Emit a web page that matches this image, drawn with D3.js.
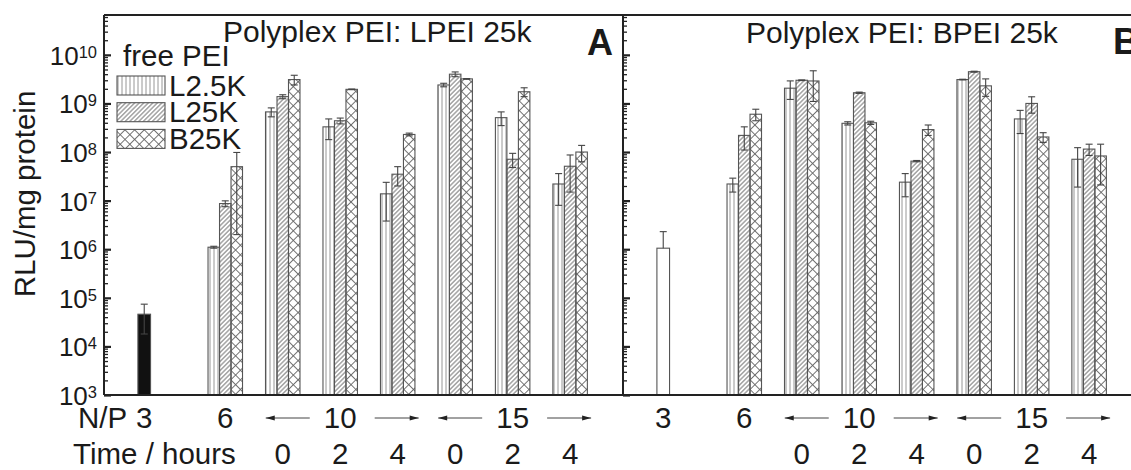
<!DOCTYPE html>
<html>
<head>
<meta charset="utf-8">
<title>Polyplex PEI with free PEI</title>
<script src="https://d3js.org/d3.v7.min.js"></script>
<style>
  body { margin: 0; background: #fff; }
  text { font-family: "Liberation Sans", Arial, sans-serif; fill: #1a1a1a; }
</style>
</head>
<body>
<div id="stage"></div>
<script>
// ---- data ----
var seriesNames = ["L2.5K", "L25K", "B25K"];
var groupPos = [2.11, 3.11, 4.11, 5.11, 6.11, 7.11, 8.11];   // N/P 6, 10 (0,2,4 h), 15 (0,2,4 h)
var ctrlPos = 0.7;                                            // N/P 3
var npLabels = ["6", "10", "15"];
var npLabelGroup = [0, 2, 5];
var timeLabels = ["", "0", "2", "4", "0", "2", "4"];
var yTicks = [3, 4, 5, 6, 7, 8, 9, 10];

// panel A: polyplex LPEI 25k
var ctrlA = 4.6e4, ctrlAsd = 2.8e4;
var aL2_5 = [1.1e6, 6.7e8, 3.3e8, 1.38e7, 2.4e9, 5.1e8, 2.2e7];
var aL2_5sd = [0.05e6, 1.4e8, 1.5e8, 1.0e7, 0.2e9, 1.6e8, 1.4e7];
var aL25 = [8.7e6, 1.38e9, 4.4e8, 3.5e7, 4.0e9, 7.1e7, 5.1e7];
var aL25sd = [1.2e6, 1.3e8, 0.6e8, 1.5e7, 0.45e9, 2.3e7, 3.6e7];
var aB25 = [5.0e7, 3.1e9, 1.95e9, 2.3e8, 3.2e9, 1.74e9, 1.0e8];
var aB25sd = [4.8e7, 7e8, 0.03e9, 0.15e8, 0.05e9, 0.36e9, 0.37e8];

// panel B: polyplex BPEI 25k
var ctrlB = 1.05e6, ctrlBsd = 1.25e6;
var bL2_5 = [2.2e7, 2.06e9, 3.9e8, 2.4e7, 3.1e9, 4.8e8, 7.1e7];
var bL2_5sd = [0.7e7, 0.85e9, 0.3e8, 1.2e7, 0.05e9, 2.4e8, 5.2e7];
var bL25 = [2.2e8, 3.0e9, 1.66e9, 6.5e7, 4.5e9, 1.0e9, 1.15e8];
var bL25sd = [1.1e8, 0.05e9, 0.05e9, 0.2e7, 0.1e9, 0.37e9, 0.3e8];
var bB25 = [6.0e8, 2.9e9, 4.0e8, 2.9e8, 2.3e9, 2.04e8, 8.3e7];
var bB25sd = [1.6e8, 1.8e9, 0.3e8, 0.7e8, 0.9e9, 0.46e8, 6.2e7];

// ---- layout ----
var W = 1131, H = 470;
var yBottom = 395, yTop = 15;
var axA = 104, axB = 623, panelW = 519;
var fs = "29.5px";

var svg = d3.select("#stage").append("svg").attr("width", W).attr("height", H);

// fill patterns
var defs = svg.append("defs");
defs.append("pattern").attr("id", "vert").attr("patternUnits", "userSpaceOnUse")
    .attr("width", 4).attr("height", 4)
  .append("path").attr("d", "M2,0V4").attr("stroke", "#8a8a8a").attr("stroke-width", 0.9);
defs.append("pattern").attr("id", "diag").attr("patternUnits", "userSpaceOnUse")
    .attr("width", 3.2).attr("height", 3.2).attr("patternTransform", "rotate(45)")
  .append("path").attr("d", "M1.6,0V3.2").attr("stroke", "#666").attr("stroke-width", 0.9);
defs.append("pattern").attr("id", "cross").attr("patternUnits", "userSpaceOnUse")
    .attr("width", 6.8).attr("height", 6.8).attr("patternTransform", "rotate(45)")
  .append("path").attr("d", "M3.4,0V6.8M0,3.4H6.8").attr("stroke", "#666").attr("stroke-width", 0.9);
var fills = ["url(#vert)", "url(#diag)", "url(#cross)"];

var y = d3.scaleLog().domain([1e3, Math.pow(10, 10.82)]).range([yBottom, yTop]);
var barW = 0.2;

function drawPanel(left, ctrl, ctrlSd, ctrlFill, vals, sds) {
  var x = d3.scaleLinear().domain([0, 9.03]).range([left, left + panelW]);
  var g = svg.append("g");

  // bars for free PEI series
  var rows = [];
  vals.forEach(function(arr, s) {
    arr.forEach(function(v, i) {
      rows.push({ x0: groupPos[i] + (s - 1.5) * barW, w: barW, v: v, sd: sds[s][i], fill: fills[s] });
    });
  });
  rows.push({ x0: ctrlPos - 0.11, w: 0.22, v: ctrl, sd: ctrlSd, fill: ctrlFill });

  g.selectAll("rect.bar").data(rows).enter().append("rect")
    .attr("class", "bar")
    .attr("x", function(d) { return x(d.x0); })
    .attr("width", function(d) { return x(d.x0 + d.w) - x(d.x0); })
    .attr("y", function(d) { return y(d.v); })
    .attr("height", function(d) { return yBottom - y(d.v); })
    .attr("fill", function(d) { return d.fill; })
    .attr("stroke", "#555").attr("stroke-width", 1.1);

  // error bars (mean +/- sd)
  var eb = g.selectAll("g.err").data(rows).enter().append("g").attr("class", "err")
    .attr("stroke", "#444").attr("stroke-width", 1.1);
  eb.append("line")
    .attr("x1", function(d) { return x(d.x0 + d.w / 2); })
    .attr("x2", function(d) { return x(d.x0 + d.w / 2); })
    .attr("y1", function(d) { return y(d.v + d.sd); })
    .attr("y2", function(d) { return d.v - d.sd > 0 ? y(d.v - d.sd) : y(d.v); });
  eb.append("line")
    .attr("x1", function(d) { return x(d.x0 + d.w / 2) - 3.5; })
    .attr("x2", function(d) { return x(d.x0 + d.w / 2) + 3.5; })
    .attr("y1", function(d) { return y(d.v + d.sd); })
    .attr("y2", function(d) { return y(d.v + d.sd); });
  eb.filter(function(d) { return d.v - d.sd > 0; }).append("line")
    .attr("x1", function(d) { return x(d.x0 + d.w / 2) - 3.5; })
    .attr("x2", function(d) { return x(d.x0 + d.w / 2) + 3.5; })
    .attr("y1", function(d) { return y(d.v - d.sd); })
    .attr("y2", function(d) { return y(d.v - d.sd); });

  // y ticks pointing inside
  var minor = [];
  for (var e = 3; e <= 10; e++) for (var m = 2; m <= 9; m++) {
    var t = m * Math.pow(10, e);
    if (t < y.domain()[1]) minor.push(t);
  }
  g.append("g").attr("transform", "translate(" + left + ",0)")
    .call(d3.axisRight(y).tickValues(minor).tickSize(4).tickFormat(""))
    .call(function(a) { a.select(".domain").remove(); a.selectAll("line").attr("stroke", "#222").attr("stroke-width", 1.3); });
  g.append("g").attr("transform", "translate(" + left + ",0)")
    .call(d3.axisRight(y).tickValues(yTicks.map(function(e) { return Math.pow(10, e); })).tickSize(7).tickFormat(""))
    .call(function(a) { a.select(".domain").remove(); a.selectAll("line").attr("stroke", "#222").attr("stroke-width", 2.2); });

  // x labels: N/P row and time row
  g.append("text").attr("x", x(ctrlPos)).attr("y", 428).attr("text-anchor", "middle")
    .style("font-size", fs).text("3");
  npLabels.forEach(function(lab, k) {
    g.append("text").attr("x", x(groupPos[npLabelGroup[k]])).attr("y", 428)
      .attr("text-anchor", "middle").style("font-size", fs).text(lab);
  });
  timeLabels.forEach(function(lab, i) {
    g.append("text").attr("x", x(groupPos[i])).attr("y", 464)
      .attr("text-anchor", "middle").style("font-size", fs).text(lab);
  });

  // arrows around N/P 10 and 15
  [[1, -1], [3, 1], [4, -1], [6, 1]].forEach(function(a) {
    var cx = x(groupPos[a[0]]) + (a[1] < 0 ? 5 : -1);
    var x1 = cx - 22, x2 = cx + 22, ay = 418;
    g.append("line").attr("x1", x1).attr("x2", x2).attr("y1", ay).attr("y2", ay)
      .attr("stroke", "#444").attr("stroke-width", 1);
    var tip = a[1] < 0 ? x1 : x2, back = a[1] < 0 ? x1 + 9 : x2 - 9;
    g.append("path").attr("d", "M" + tip + "," + ay + "L" + back + "," + (ay - 2.6) + "L" + back + "," + (ay + 2.6) + "Z")
      .attr("fill", "#222");
  });
  return x;
}

drawPanel(axA, ctrlA, ctrlAsd, "#111", [aL2_5, aL25, aB25], [aL2_5sd, aL25sd, aB25sd]);
drawPanel(axB, ctrlB, ctrlBsd, "#fff", [bL2_5, bL25, bB25], [bL2_5sd, bL25sd, bB25sd]);

// frame
var frame = svg.append("g").attr("stroke", "#222").attr("stroke-width", 2);
frame.append("line").attr("x1", axA).attr("x2", W).attr("y1", yTop).attr("y2", yTop);
frame.append("line").attr("x1", axA).attr("x2", W).attr("y1", yBottom).attr("y2", yBottom);
frame.append("line").attr("x1", axA).attr("x2", axA).attr("y1", yTop).attr("y2", yBottom);
frame.append("line").attr("x1", axB).attr("x2", axB).attr("y1", yTop).attr("y2", yBottom);

// y tick labels 10^n
yTicks.forEach(function(e) {
  var t = svg.append("text").attr("x", 97).attr("y", y(Math.pow(10, e)) + 10)
    .attr("text-anchor", "end").style("font-size", "26px");
  t.append("tspan").text("10");
  t.append("tspan").attr("dy", -7).style("font-size", "16.5px").text(e);
});

// axis title
svg.append("text").attr("transform", "translate(35,194) rotate(-90)")
  .attr("text-anchor", "middle").style("font-size", fs).text("RLU/mg protein");

// row titles
svg.append("text").attr("x", 78).attr("y", 428).style("font-size", fs).text("N/P");
svg.append("text").attr("x", 73).attr("y", 464).style("font-size", fs).text("Time / hours");

// panel titles and letters
svg.append("text").attr("x", 223).attr("y", 42).style("font-size", "30px").text("Polyplex PEI: LPEI 25k");
svg.append("text").attr("x", 746).attr("y", 43).style("font-size", "30px").text("Polyplex PEI: BPEI 25k");
svg.append("text").attr("x", 613).attr("y", 55).attr("text-anchor", "end")
  .style("font-size", "36px").style("font-weight", "bold").text("A");
svg.append("text").attr("x", 1113).attr("y", 54)
  .style("font-size", "37px").style("font-weight", "bold").text("B");

// legend
var leg = svg.append("g");
leg.append("text").attr("x", 123).attr("y", 66).style("font-size", fs).text("free PEI");
seriesNames.forEach(function(name, s) {
  var ly = 76 + s * 26.7;
  leg.append("rect").attr("x", 117).attr("y", ly).attr("width", 48).attr("height", 19)
    .attr("fill", fills[s]).attr("stroke", "#555").attr("stroke-width", 1.1);
  leg.append("text").attr("x", 169).attr("y", ly + 19.5).style("font-size", fs).text(name);
});
</script>
</body>
</html>
